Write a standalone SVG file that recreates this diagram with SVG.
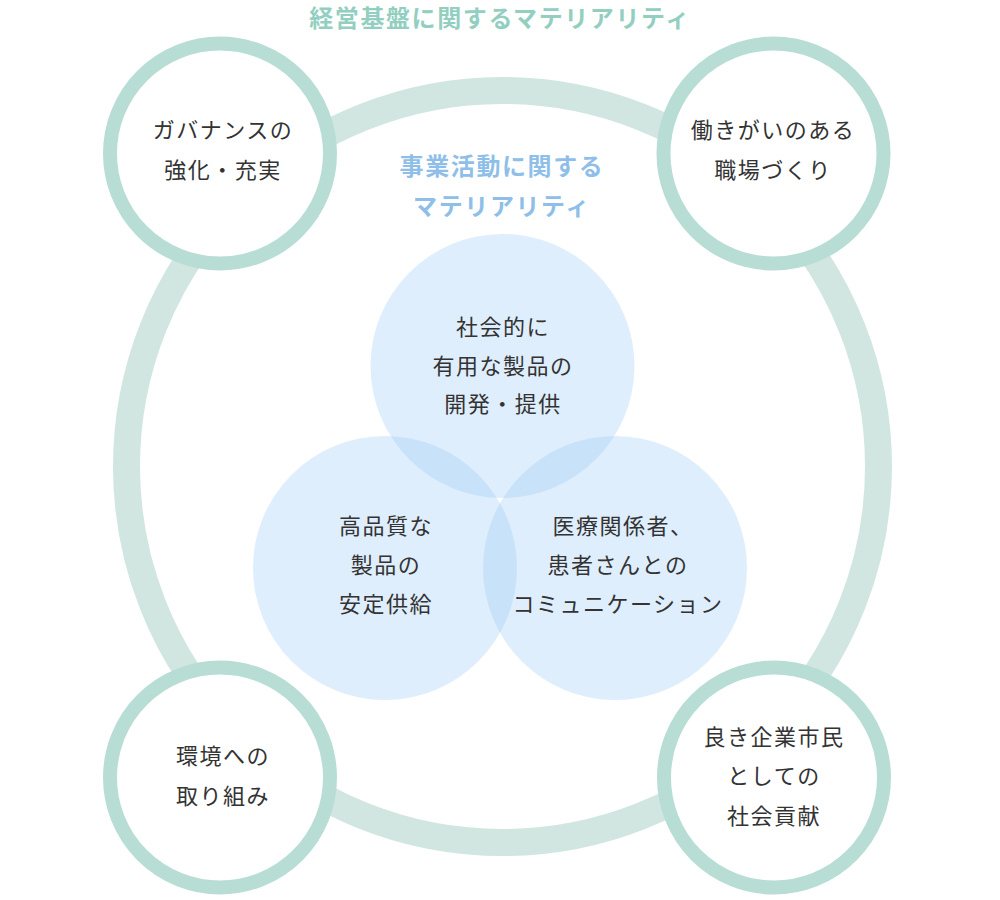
<svg xmlns="http://www.w3.org/2000/svg" width="1000" height="900" viewBox="0 0 1000 900">
  <style>
    .ring { fill: none; stroke: #d1e6e1; stroke-width: 27; }
    .node { fill: #ffffff; stroke: #b8ddd5; stroke-width: 14; }
    .venn { fill: rgb(150,200,245); fill-opacity: 0.3; }
    .t { font-family: "Noto Sans CJK JP", "Noto Sans", sans-serif; font-size: 22px; fill: #333333; text-anchor: middle; letter-spacing: 1.5px; }
    .h1 { font-family: "Noto Sans CJK JP", "Noto Sans", sans-serif; font-size: 24px; font-weight: bold; fill: #93cfc1; text-anchor: middle; letter-spacing: 1.6px; }
    .h2 { font-family: "Noto Sans CJK JP", "Noto Sans", sans-serif; font-size: 24px; font-weight: bold; fill: #8fbfe9; text-anchor: middle; letter-spacing: 1.6px; }
  </style>
  <rect width="1000" height="900" fill="#ffffff"/>
  <g id="connectors">
    <circle class="ring" cx="502.5" cy="466.5" r="376"/>
  </g>
  <g id="title-base">
    <text class="h1" x="500" y="27">経営基盤に関するマテリアリティ</text>
  </g>
  <g id="title-business">
    <text class="h2" x="502" y="175">事業活動に関する</text>
    <text class="h2" x="502" y="215">マテリアリティ</text>
  </g>
  <g id="venn-top">
    <circle class="venn" cx="502.5" cy="366" r="132"/>
    <text class="t" x="503" y="335">社会的に</text>
    <text class="t" x="503" y="374">有用な製品の</text>
    <text class="t" x="503" y="412">開発・提供</text>
  </g>
  <g id="venn-left">
    <circle class="venn" cx="385" cy="568" r="132"/>
    <text class="t" x="386" y="534">高品質な</text>
    <text class="t" x="386" y="573">製品の</text>
    <text class="t" x="386" y="612">安定供給</text>
  </g>
  <g id="venn-right">
    <circle class="venn" cx="615" cy="568" r="132"/>
    <text class="t" x="623" y="534">医療関係者、</text>
    <text class="t" x="618" y="573">患者さんとの</text>
    <text class="t" x="618" y="612">コミュニケーション</text>
  </g>
  <g id="node-governance">
    <circle class="node" cx="220" cy="153.5" r="110"/>
    <text class="t" x="223" y="138">ガバナンスの</text>
    <text class="t" x="223" y="178">強化・充実</text>
  </g>
  <g id="node-workplace">
    <circle class="node" cx="773.5" cy="153.5" r="110"/>
    <text class="t" x="773" y="138">働きがいのある</text>
    <text class="t" x="773" y="178">職場づくり</text>
  </g>
  <g id="node-environment">
    <circle class="node" cx="220" cy="777.5" r="110"/>
    <text class="t" x="223" y="764">環境への</text>
    <text class="t" x="223" y="804">取り組み</text>
  </g>
  <g id="node-citizen">
    <circle class="node" cx="774" cy="777.5" r="110"/>
    <text class="t" x="774" y="745">良き企業市民</text>
    <text class="t" x="774" y="784">としての</text>
    <text class="t" x="774" y="824">社会貢献</text>
  </g>
</svg>
